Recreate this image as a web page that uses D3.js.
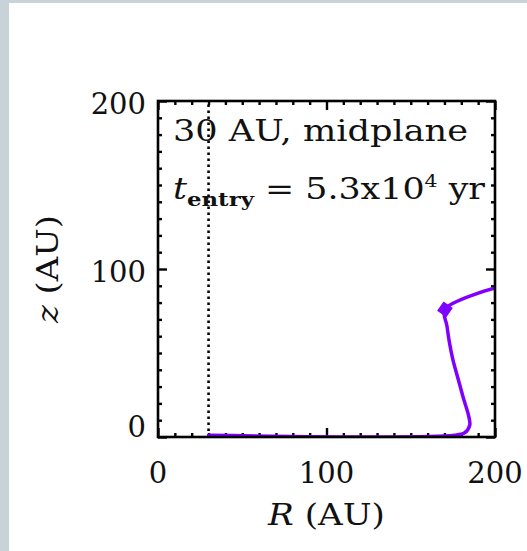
<!DOCTYPE html>
<html><head><meta charset="utf-8">
<script src="https://cdn.jsdelivr.net/npm/d3@7"></script>
<style>
html,body{margin:0;padding:0;background:#fff;}
svg{display:block;}
text{font-family:"DejaVu Serif",serif;fill:#111;}
</style></head>
<body>
<script>
// ---- data ----
const trackR = [30, 176, 182, 185, 184.5, 181, 178, 175, 173, 171.5, 170.3, 200];
const trackZ = [1, 1, 2.5, 7, 12, 24, 35, 46, 56, 66, 76, 88.7];
const entryR = 170.3, entryZ = 76;
const dividerR = 30;
const xMajor = [0, 100, 200];
const yMajor = [0, 100, 200];
const xMinorStep = 10, yMinorStep = 10;
const panelTitle = "30 AU, midplane";
const entryLabel = {sym: "t", sub: "entry", text: " = 5.3x10", sup: "4", unit: " yr"};
const xTitle = {sym: "R", unit: " (AU)"};
const yTitle = {sym: "z", unit: " (AU)"};

// ---- layout ----
const W = 527, H = 551;
const L = 158, R = 495, T = 101, B = 437;
const svg = d3.select("body").append("svg").attr("width", W).attr("height", H);
svg.append("rect").attr("width", W).attr("height", H).attr("fill", "#c8d2d9");
svg.append("rect").attr("x", 9).attr("y", 3).attr("width", W - 9).attr("height", H - 3).attr("fill", "#fff");

const x = d3.scaleLinear().domain([0, 200]).range([L, R]);
const y = d3.scaleLinear().domain([0, 200]).range([B, T]);

const minorX = d3.range(0, 200 + 0.1, xMinorStep).filter(v => !xMajor.includes(v));
const minorY = d3.range(0, 200 + 0.1, yMinorStep).filter(v => !yMajor.includes(v));

function axisG(gen, tx, ty) {
  const g = svg.append("g").attr("transform", `translate(${tx},${ty})`).call(gen);
  g.select(".domain").remove();
  g.selectAll("line").attr("stroke", "#000").attr("stroke-width", 2.4);
  g.selectAll("text").remove();
  return g;
}
// inward ticks on all four sides
axisG(d3.axisBottom(x).tickValues(xMajor).tickSize(-9), 0, B);
axisG(d3.axisBottom(x).tickValues(minorX).tickSize(-4), 0, B);
axisG(d3.axisTop(x).tickValues(xMajor).tickSize(-9), 0, T);
axisG(d3.axisTop(x).tickValues(minorX).tickSize(-4), 0, T);
axisG(d3.axisLeft(y).tickValues(yMajor).tickSize(-9), L, 0);
axisG(d3.axisLeft(y).tickValues(minorY).tickSize(-4), L, 0);
axisG(d3.axisRight(y).tickValues(yMajor).tickSize(-9), R, 0);
axisG(d3.axisRight(y).tickValues(minorY).tickSize(-4), R, 0);

// dotted divider
svg.append("line").attr("x1", x(dividerR)).attr("x2", x(dividerR))
  .attr("y1", y(0)).attr("y2", y(200))
  .attr("stroke", "#000").attr("stroke-width", 2.6).attr("stroke-dasharray", "2.5,3.5");

// track
const clip = svg.append("clipPath").attr("id", "c").append("rect")
  .attr("x", L).attr("y", T).attr("width", R - L).attr("height", B - T);
const pts = trackR.map((r, i) => [x(r), y(trackZ[i])]);
svg.append("path").attr("clip-path", "url(#c)")
  .attr("d", d3.line().curve(d3.curveCatmullRom.alpha(0.5))(pts))
  .attr("fill", "none").attr("stroke", "#8000ff").attr("stroke-width", 3.5)
  .attr("stroke-linejoin", "round").attr("stroke-linecap", "round");
svg.append("path").attr("d", d3.symbol(d3.symbolSquare, 95)())
  .attr("transform", `translate(${x(entryR)},${y(entryZ)}) rotate(35)`)
  .attr("fill", "#8000ff").attr("stroke", "#8000ff").attr("stroke-width", 1.5);

// frame
svg.append("rect").attr("x", L).attr("y", T).attr("width", R - L).attr("height", B - T)
  .attr("fill", "none").attr("stroke", "#000").attr("stroke-width", 2.6);

// tick labels
const fs = 29;
svg.selectAll(".xl").data(xMajor).enter().append("text")
  .attr("x", d => x(d)).attr("y", 483).attr("text-anchor", "middle")
  .attr("font-size", fs).text(d => d);
svg.selectAll(".yl").data(yMajor).enter().append("text")
  .attr("x", 146).attr("y", d => Math.min(y(d) + 13, B)).attr("text-anchor", "end")
  .attr("font-size", fs).text(d => d);

// axis titles
const xt = svg.append("text").attr("x", 268).attr("y", 525).attr("font-size", fs)
  .attr("textLength", 117).attr("lengthAdjust", "spacingAndGlyphs");
xt.append("tspan").attr("font-style", "italic").text(xTitle.sym);
xt.append("tspan").text(xTitle.unit);
const yt = svg.append("text").attr("transform", `translate(58,323) rotate(-90)`)
  .attr("font-size", fs).attr("textLength", 108).attr("lengthAdjust", "spacingAndGlyphs");
yt.append("tspan").attr("font-style", "italic").text(yTitle.sym);
yt.append("tspan").text(yTitle.unit);

// annotations
svg.append("text").attr("x", 173).attr("y", 141).attr("font-size", fs)
  .attr("textLength", 295).attr("lengthAdjust", "spacingAndGlyphs").text(panelTitle);
const t2 = svg.append("text").attr("x", 173).attr("y", 199).attr("font-size", fs)
  .attr("textLength", 312).attr("lengthAdjust", "spacingAndGlyphs");
t2.append("tspan").attr("font-style", "italic").text(entryLabel.sym);
t2.append("tspan").attr("font-size", 19).attr("font-weight", "bold").attr("dy", 7).text(entryLabel.sub);
t2.append("tspan").attr("dy", -7).text(entryLabel.text);
t2.append("tspan").attr("font-size", 17).attr("dy", -12).text(entryLabel.sup);
t2.append("tspan").attr("dy", 12).text(entryLabel.unit);
</script>
</body></html>
